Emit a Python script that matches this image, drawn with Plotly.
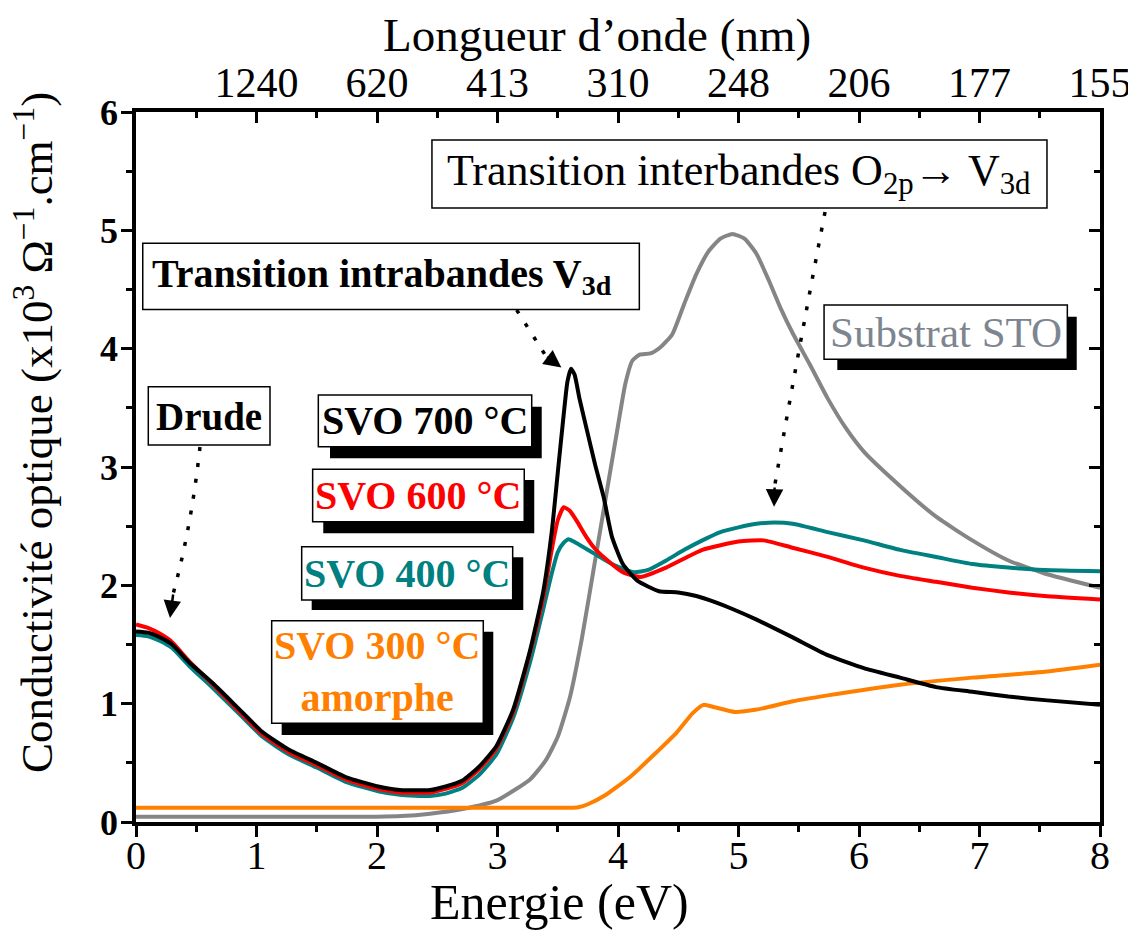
import plotly.graph_objects as go

FONT = "Liberation Serif"

# ---------------- data ----------------
E_700 = [0, 0.1, 0.2, 0.3, 0.44, 0.64, 0.86, 1.05, 1.27, 1.5, 1.74, 2.01, 2.19, 2.44, 2.57, 2.71, 2.85, 2.99,
         3.13, 3.27, 3.38, 3.45, 3.5, 3.55, 3.58, 3.61, 3.64, 3.68, 3.74, 3.81, 3.88, 3.95, 4.04, 4.16, 4.34,
         4.5, 4.65, 4.8, 4.95, 5.15, 5.45, 5.74, 6.04, 6.34, 6.64, 6.94, 7.24, 7.54, 8.0]
S_700 = [1.61, 1.60, 1.56, 1.50, 1.35, 1.17, 0.95, 0.76, 0.61, 0.50, 0.38, 0.30, 0.27, 0.27, 0.30, 0.35, 0.47, 0.64,
         0.95, 1.45, 1.95, 2.45, 2.95, 3.45, 3.72, 3.83, 3.78, 3.58, 3.32, 3.02, 2.75, 2.41, 2.18, 2.04, 1.95,
         1.94, 1.91, 1.86, 1.80, 1.71, 1.56, 1.41, 1.30, 1.22, 1.14, 1.10, 1.06, 1.03, 0.99]

E_600 = [0, 0.1, 0.2, 0.3, 0.44, 0.64, 0.86, 1.05, 1.27, 1.5, 1.74, 2.01, 2.19, 2.44, 2.57, 2.71, 2.85, 2.99,
         3.13, 3.27, 3.38, 3.45, 3.5, 3.55, 3.6, 3.66, 3.73, 3.8, 3.89, 4.04, 4.19, 4.4, 4.7, 5.0, 5.21, 5.44,
         5.74, 6.04, 6.34, 6.64, 6.94, 7.24, 7.54, 8.0]
S_600 = [1.67, 1.64, 1.59, 1.52, 1.36, 1.16, 0.93, 0.74, 0.59, 0.48, 0.36, 0.28, 0.25, 0.25, 0.28, 0.33, 0.45, 0.62,
         0.93, 1.43, 1.90, 2.30, 2.55, 2.66, 2.63, 2.54, 2.42, 2.32, 2.23, 2.11, 2.07, 2.15, 2.30, 2.37, 2.38, 2.32,
         2.24, 2.15, 2.08, 2.03, 1.98, 1.94, 1.91, 1.88]

E_400 = [0, 0.1, 0.2, 0.3, 0.44, 0.64, 0.86, 1.05, 1.27, 1.5, 1.74, 2.01, 2.19, 2.44, 2.57, 2.71, 2.85, 2.99,
         3.13, 3.27, 3.38, 3.45, 3.5, 3.55, 3.59, 3.65, 3.8, 3.95, 4.13, 4.25, 4.4, 4.55, 4.7, 4.85, 5.0, 5.15,
         5.3, 5.45, 5.74, 6.04, 6.34, 6.64, 6.94, 7.24, 7.54, 8.0]
S_400 = [1.58, 1.57, 1.53, 1.47, 1.32, 1.13, 0.91, 0.72, 0.57, 0.46, 0.34, 0.26, 0.23, 0.22, 0.24, 0.29, 0.40, 0.57,
         0.88, 1.35, 1.80, 2.10, 2.28, 2.36, 2.39, 2.36, 2.27, 2.18, 2.11, 2.13, 2.21, 2.30, 2.38, 2.45, 2.49, 2.52,
         2.53, 2.52, 2.45, 2.38, 2.30, 2.24, 2.18, 2.15, 2.13, 2.12]

E_300 = [0, 1, 2, 3, 3.6, 3.67, 3.75, 3.9, 4.1, 4.3, 4.49, 4.62, 4.71, 4.8, 4.97, 5.15, 5.45, 5.74, 6.34,
         6.94, 7.54, 8.0]
S_300 = [0.12, 0.12, 0.12, 0.12, 0.12, 0.125, 0.15, 0.23, 0.38, 0.57, 0.76, 0.92, 0.99, 0.97, 0.93, 0.95, 1.02,
         1.07, 1.16, 1.22, 1.27, 1.33]

E_sto = [0, 0.5, 1.0, 1.5, 2.0, 2.2, 2.44, 2.71, 2.99, 3.27, 3.4, 3.5, 3.6, 3.7, 3.8, 3.9, 4.0, 4.06, 4.12,
         4.18, 4.27, 4.35, 4.45, 4.55, 4.65, 4.75, 4.85, 4.95, 5.05, 5.15, 5.25, 5.35, 5.45, 5.59, 5.74, 5.89,
         6.04, 6.34, 6.64, 6.94, 7.24, 7.54, 8.0]
S_sto = [0.045, 0.045, 0.045, 0.045, 0.045, 0.05, 0.07, 0.11, 0.18, 0.36, 0.52, 0.72, 1.05, 1.55, 2.15, 2.75,
         3.35, 3.70, 3.90, 3.95, 3.96, 4.01, 4.12, 4.38, 4.63, 4.82, 4.93, 4.97, 4.93, 4.80, 4.58, 4.34, 4.13,
         3.87, 3.58, 3.33, 3.13, 2.84, 2.58, 2.38, 2.21, 2.10, 1.98]

wl_tick_ev = [1, 2, 3, 4, 5, 6, 7, 8]
wl_labels = ["1240", "620", "413", "310", "248", "206", "177", "155"]

series = [
    ("Substrat STO", E_sto, S_sto, "#858585"),
    ("SVO 300 °C", E_300, S_300, "#ff8000"),
    ("SVO 400 °C", E_400, S_400, "#008080"),
    ("SVO 600 °C", E_600, S_600, "#ff0000"),
    ("SVO 700 °C", E_700, S_700, "#000000"),
]

fig = go.Figure()
for name, x, y, c in series:
    fig.add_trace(go.Scatter(x=x, y=y, mode="lines", name=name,
                             line=dict(color=c, width=4, shape="spline", smoothing=0.5),
                             showlegend=False, hoverinfo="skip"))
# invisible trace to activate the mirrored top/right axes
fig.add_trace(go.Scatter(x=E_700[:1], y=S_700[:1], xaxis="x2", yaxis="y2", mode="markers",
                         marker=dict(opacity=0), showlegend=False, hoverinfo="skip"))

axis_common = dict(showline=True, linewidth=3.5, linecolor="black", showgrid=False, zeroline=False,
                   tickwidth=3, tickcolor="black", automargin=False)

# the page body adds an 8px offset; margins compensate so the plot area sits at 136..1100 x 112..822
fig.update_layout(
    width=1136, height=940,
    margin=dict(l=128, r=44, t=104, b=126),
    paper_bgcolor="white", plot_bgcolor="white",
    font=dict(family=FONT, color="black"),
    xaxis=dict(range=[0, 8], dtick=1, tick0=0, ticks="outside", ticklen=11, ticklabelstandoff=-16,
               minor=dict(dtick=0.5, ticklen=6, tickwidth=3, ticks="outside", tickcolor="black"),
               tickfont=dict(size=40, family=FONT), **axis_common),
    xaxis2=dict(range=[0, 8], overlaying="x", side="top", tickvals=wl_tick_ev, ticktext=wl_labels,
                ticks="inside", ticklen=11, ticklabelstandoff=-6,
                minor=dict(dtick=0.5, ticklen=6, tickwidth=3, ticks="inside", tickcolor="black"),
                tickfont=dict(size=42, family=FONT), **axis_common),
    yaxis=dict(range=[0, 6], dtick=1, tick0=0, ticks="outside", ticklen=11, ticklabelstandoff=-4,
               minor=dict(dtick=0.5, ticklen=6, tickwidth=3, ticks="outside", tickcolor="black"),
               tickfont=dict(size=36, family=FONT, weight="bold"), **axis_common),
    yaxis2=dict(range=[0, 6], overlaying="y", side="right", dtick=1, ticks="inside", ticklen=11,
                showticklabels=False,
                minor=dict(dtick=0.5, ticklen=6, tickwidth=3, ticks="inside", tickcolor="black"),
                **axis_common),
)

annotations = []
shapes = []

# axis titles
annotations.append(dict(text="Energie (eV)", xref="paper", yref="paper", x=0.439, y=-0.112,
                        showarrow=False, font=dict(size=50, family=FONT), xanchor="center", yanchor="middle"))
annotations.append(dict(text="Longueur d’onde (nm)", xref="paper", yref="paper", x=0.478, y=1.109,
                        showarrow=False, font=dict(size=47, family=FONT), xanchor="center", yanchor="middle"))
annotations.append(dict(text="Conductivité optique (x10<sup>3</sup> Ω<sup>−1</sup>.cm<sup>−1</sup>)",
                        xref="paper", yref="paper", x=-0.106, y=0.549, textangle=-90,
                        showarrow=False, font=dict(size=45, family=FONT), xanchor="center", yanchor="middle"))


def box(x0, x1, y0, y1, shadow=None):
    if shadow is not None:
        sx0, sx1, sy0, sy1 = shadow
        shapes.append(dict(type="rect", xref="x", yref="y", x0=sx0, x1=sx1, y0=sy0, y1=sy1,
                           fillcolor="black", line=dict(width=0), layer="above"))
    shapes.append(dict(type="rect", xref="x", yref="y", x0=x0, x1=x1, y0=y0, y1=y1,
                       fillcolor="white", line=dict(color="black", width=1.5), layer="above"))


def label(text, x, y, color, size, bold=True):
    annotations.append(dict(text=f"<b>{text}</b>" if bold else text, x=x, y=y, xref="x", yref="y",
                            showarrow=False, font=dict(size=size, family=FONT, color=color),
                            xanchor="center", yanchor="middle"))


# Drude
box(0.102, 1.112, 3.186, 3.679)
label("Drude", 0.607, 3.43, "black", 39)
# SVO 700
box(1.513, 3.284, 3.172, 3.609, shadow=(1.610, 3.367, 3.074, 3.510))
label("SVO 700 °C", 2.40, 3.39, "black", 40)
# SVO 600
box(1.466, 3.222, 2.538, 2.981, shadow=(1.554, 3.305, 2.440, 2.890))
label("SVO 600 °C", 2.344, 2.76, "#ff0000", 40)
# SVO 400
box(1.375, 3.126, 1.876, 2.327, shadow=(1.458, 3.214, 1.792, 2.237))
label("SVO 400 °C", 2.25, 2.10, "#008080", 40)
# SVO 300 amorphe
box(1.126, 2.882, 0.834, 1.701, shadow=(1.209, 2.965, 0.735, 1.608))
label("SVO 300 °C<br>amorphe", 2.004, 1.27, "#ff8000", 40)
# intrabandes
box(0.056, 4.177, 4.331, 4.891)
label("Transition intrabandes V<sub>3d</sub>", 2.04, 4.61, "black", 40)
# interbandes
box(2.456, 7.560, 5.189, 5.764)
label("Transition interbandes O<sub>2p</sub>→ V<sub>3d</sub>", 5.0, 5.48, "black", 44, bold=False)
# substrat
box(5.710, 7.729, 3.910, 4.369, shadow=(5.820, 7.807, 3.820, 4.270))
label("Substrat STO", 6.726, 4.14, "#7d8590", 43, bold=False)

# dotted arrows
dot = dict(color="black", width=3.5, dash="4px,12px")
shapes.append(dict(type="path", xref="x", yref="y", path="M 0.531,3.169 Q 0.46,2.5 0.31,1.935", line=dot))
shapes.append(dict(type="path", xref="x", yref="y", path="M 3.159,4.327 L 3.40,3.94", line=dot))
shapes.append(dict(type="path", xref="x", yref="y", path="M 5.718,5.155 Q 5.50,4.0 5.30,2.84", line=dot))

for (tx, ty, bx, by) in [(0.282, 1.724, 0.31, 1.935), (3.53, 3.84, 3.40, 3.94), (5.295, 2.665, 5.30, 2.84)]:
    annotations.append(dict(x=tx, y=ty, ax=bx, ay=by, xref="x", yref="y", axref="x", ayref="y",
                            text="", showarrow=True, arrowhead=2, arrowsize=1.4, arrowwidth=2.5,
                            arrowcolor="black", standoff=0))

fig.update_layout(annotations=annotations, shapes=shapes)
fig.write_html("out.html")
